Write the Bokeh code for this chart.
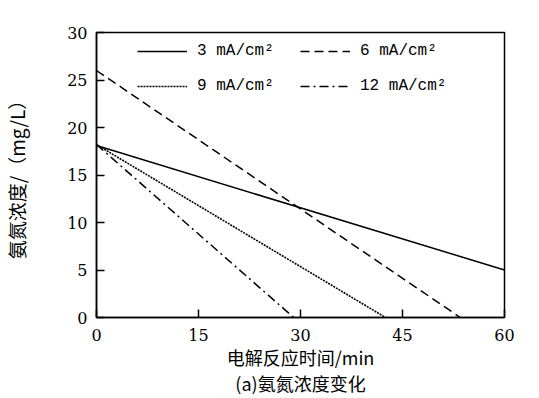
from bokeh.plotting import figure
from bokeh.models import Range1d, Legend, LegendItem, FixedTicker
from bokeh.embed import file_html
from bokeh.resources import INLINE

# ---- data ----
labels = ["3 mA/cm²", "6 mA/cm²", "9 mA/cm²", "12 mA/cm²"]
time_3 = [0, 60]
conc_3 = [18.1, 5.0]
time_6 = [0, 53.5]
conc_6 = [26.0, 0.0]
time_9 = [0, 42.5]
conc_9 = [18.2, 0.0]
time_12 = [0, 29.0]
conc_12 = [18.2, 0.0]
x_ticks = [0, 15, 30, 45, 60]
y_ticks = [0, 5, 10, 15, 20, 25, 30]
x_label = "电解反应时间/min"
caption = "(a)氨氮浓度变化"
y_label = "氨氮浓度/（mg/L）"

CJK = "Noto Sans CJK SC"
NUM = "DejaVu Serif"

p = figure(width=539, height=398, output_backend="svg", toolbar_location=None,
           x_range=Range1d(0, 60), y_range=Range1d(0, 30),
           min_border_left=96, min_border_right=35, min_border_top=32, min_border_bottom=81)
p.xgrid.visible = False
p.ygrid.visible = False
p.outline_line_color = "black"
p.outline_line_width = 1.5
p.outline_line_alpha = 1.0
p.background_fill_color = "white"
p.border_fill_color = "white"

r3 = p.line(time_3, conc_3, line_color="black", line_width=1.5)
r6 = p.line(time_6, conc_6, line_color="black", line_width=1.5, line_dash="9 5")
r9 = p.line(time_9, conc_9, line_color="black", line_width=1.6, line_dash="2 1")
r12 = p.line(time_12, conc_12, line_color="black", line_width=1.5, line_dash="9 4 2 4")

for ax in (p.xaxis[0], p.yaxis[0]):
    ax.axis_line_color = "black"
    ax.axis_line_width = 1.5
    ax.major_tick_in = 8
    ax.major_tick_out = 0
    ax.major_tick_line_width = 1.5
    ax.minor_tick_in = 0
    ax.minor_tick_out = 0
    ax.major_label_text_font = NUM
    ax.major_label_text_font_size = "16px"
    ax.major_label_text_color = "black"
    ax.axis_label_text_font = CJK
    ax.axis_label_text_font_style = "normal"
    ax.axis_label_text_color = "black"

p.xaxis[0].ticker = FixedTicker(ticks=x_ticks)
p.yaxis[0].ticker = FixedTicker(ticks=y_ticks)
p.xaxis[0].major_label_standoff = 11
p.yaxis[0].major_label_standoff = 9

p.xaxis[0].axis_label = x_label + "\n" + caption
p.xaxis[0].axis_label_text_font_size = "18px"
p.xaxis[0].axis_label_text_line_height = 1.0
p.xaxis[0].axis_label_standoff = 0

p.yaxis[0].axis_label = y_label
p.yaxis[0].axis_label_text_font_size = "19px"
p.yaxis[0].axis_label_standoff = 34

common = dict(border_line_alpha=0, background_fill_alpha=0, padding=0, margin=0,
              orientation="horizontal", glyph_width=50, glyph_height=20, label_height=20,
              label_standoff=10, label_width=95, spacing=8,
              label_text_font="Liberation Mono", label_text_font_size="16px",
              label_text_color="black")
leg1 = Legend(items=[LegendItem(label=labels[0], renderers=[r3]),
                     LegendItem(label=labels[1], renderers=[r6])],
              location=(41, 256), **common)
leg2 = Legend(items=[LegendItem(label=labels[2], renderers=[r9]),
                     LegendItem(label=labels[3], renderers=[r12])],
              location=(41, 221), **common)
p.add_layout(leg1, "center")
p.add_layout(leg2, "center")

open("out.html", "w").write(file_html(p, INLINE))
